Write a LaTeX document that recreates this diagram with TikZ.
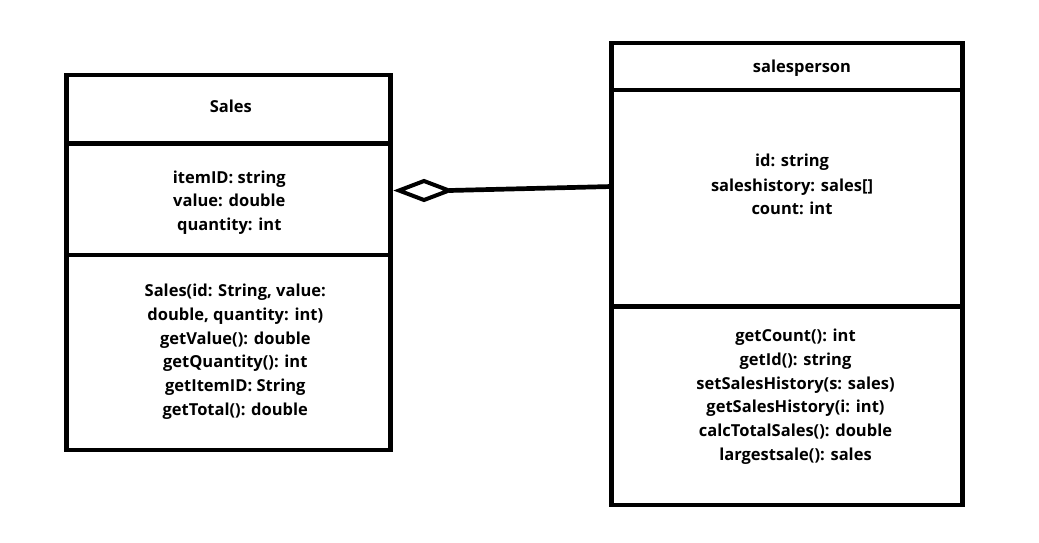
\documentclass[tikz,border=0pt]{standalone}
\usepackage{fontspec}
\setmainfont{Open Sans}
\usetikzlibrary{shapes.geometric}
\begin{document}
\begin{tikzpicture}[x=1pt,y=-1pt,
  classbox/.style={draw,line width=4.7pt,rectangle,inner sep=0pt,outer sep=0pt},
  divider/.style={line width=4.7pt},
  txt/.style={font=\bfseries\fontsize{16.5}{24}\selectfont,inner sep=0pt,anchor=base},
  aggr/.style={diamond,draw,line width=4pt,inner sep=0pt,outer sep=0pt,minimum width=50pt,minimum height=19pt},
  link/.style={line width=4.7pt}]
\useasboundingbox[fill=white] (0,0) rectangle (1039,542);
% Sales class
\node[classbox,minimum width=324pt,minimum height=375pt] (salesbox) at (228.5,262.5) {};
\draw[divider] (salesbox.west |- 0,143.5) -- (salesbox.east |- 0,143.5);
\draw[divider] (salesbox.west |- 0,255) -- (salesbox.east |- 0,255);
\node[txt] (salesname) at (230.8,112) {Sales};
\node[txt] (sa1) at (229.3,183.3) {itemID: string};
\node[txt] (sa2) at (229.3,206.7) {value: double};
\node[txt] (sa3) at (229.3,230) {quantity: int};
\node[txt] (sm1) at (235.3,296) {Sales(id: String, value:};
\node[txt] (sm2) at (235.3,320) {double, quantity: int)};
\node[txt] (sm3) at (235.3,344) {getValue(): double};
\node[txt] (sm4) at (235.3,367.7) {getQuantity(): int};
\node[txt] (sm5) at (235.3,391.7) {getItemID: String};
\node[txt] (sm6) at (235.3,415.7) {getTotal(): double};
% salesperson class
\node[classbox,minimum width=350.8pt,minimum height=462pt] (spbox) at (787.1,274) {};
\draw[divider] (spbox.west |- 0,90) -- (spbox.east |- 0,90);
\draw[divider] (spbox.west |- 0,306.7) -- (spbox.east |- 0,306.7);
\node[txt] (spname) at (802,72.7) {salesperson};
\node[txt] (pa1) at (792,166.7) {id: string};
\node[txt] (pa2) at (792,191) {saleshistory: sales[]};
\node[txt] (pa3) at (792,214) {count: int};
\node[txt] (pm1) at (795.5,341) {getCount(): int};
\node[txt] (pm2) at (795.5,365) {getId(): string};
\node[txt] (pm3) at (795.5,389) {setSalesHistory(s: sales)};
\node[txt] (pm4) at (795.5,412.7) {getSalesHistory(i: int)};
\node[txt] (pm5) at (795.5,436.7) {calcTotalSales(): double};
\node[txt] (pm6) at (795.5,460) {largestsale(): sales};
% aggregation
\node[aggr] (agg) at (424,190.5) {};
\coordinate (spend) at (spbox.west |- 0,186.5);
\draw[link] (agg.east) -- (spend);
\end{tikzpicture}
\end{document}
